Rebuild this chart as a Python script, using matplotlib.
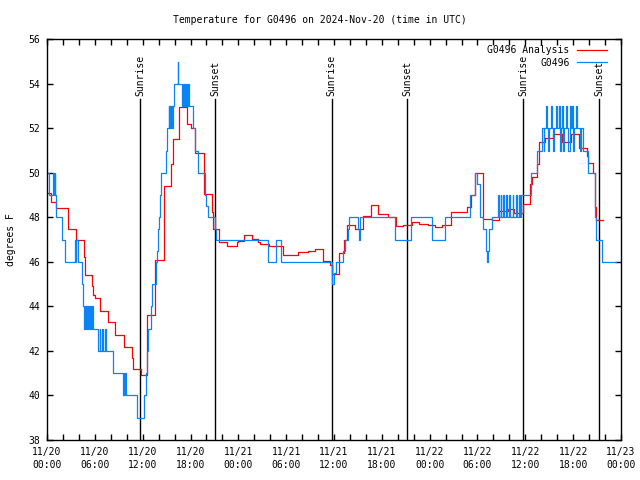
import numpy as np
import matplotlib
matplotlib.use("Agg")
import matplotlib.pyplot as plt

# hours since 2024-11-20 00:00 UTC
ana_t = [0.0, 0.5, 1.1, 2.6, 3.6, 4.6, 4.8, 5.6, 5.75, 6.0, 6.65, 7.6, 8.5, 9.6,
         10.6, 10.75, 11.8, 12.55, 13.6, 14.68, 15.6, 15.75, 16.6, 17.55, 18.0,
         18.57, 19.7, 20.66, 20.87, 21.62, 22.63, 23.8, 24.0, 24.72, 25.68, 26.52,
         26.7, 27.9, 29.57, 31.53, 32.79, 33.62, 34.59, 35.55, 35.72, 36.6, 37.3,
         37.68, 38.64, 39.69, 40.65, 41.57, 42.83, 43.79, 44.62, 45.75, 46.67,
         47.85, 48.68, 49.6, 50.65, 51.74, 52.66, 53.2, 53.7, 54.75, 55.8, 56.75,
         57.8, 58.6, 59.68, 60.6, 60.8, 61.45, 61.73, 62.44, 63.5, 64.66, 65.74,
         66.7, 67.7, 67.83, 68.5, 68.76, 68.88, 69.72]
ana_v = [49.1, 48.7, 48.4, 47.5, 47.0, 46.2, 45.4, 44.9, 44.5, 44.4, 43.8, 43.3, 42.7, 42.2,
         41.7, 41.2, 40.9, 43.6, 46.1, 49.4, 50.4, 51.5, 52.95, 52.2, 52.0,
         50.9, 49.05, 48.25, 47.5, 46.88, 46.7, 46.88, 46.95, 47.2, 47.03, 46.88,
         46.8, 46.7, 46.31, 46.43, 46.5, 46.56, 46.06, 45.85, 45.45, 46.4, 47.0,
         47.66, 47.47, 48.08, 48.54, 48.14, 48.0, 47.6, 47.66, 47.78, 47.72,
         47.67, 47.55, 47.66, 48.26, 48.23, 48.48, 49.0, 50.0, 47.94, 47.9, 48.3,
         48.38, 48.2, 48.6, 49.5, 49.8, 50.4, 51.4, 51.55, 51.73, 51.4, 51.73,
         51.1, 50.77, 50.46, 50.0, 48.48, 47.88, 47.88]

obs_t = [0.0, 0.25, 0.75, 0.85, 0.95, 1.0, 1.13, 1.84, 2.26, 3.51, 3.6, 3.7, 3.93,
         4.35, 4.56, 4.7, 4.75, 4.85, 4.95, 5.05, 5.15, 5.3, 5.4, 5.55, 5.65, 5.81,
         6.44, 6.6, 6.7, 6.85, 7.0, 7.3, 7.45, 8.24, 9.5, 9.6, 9.7, 9.8, 9.9,
         11.25, 12.21, 12.42, 12.5, 12.63, 13.05, 13.13, 13.63, 13.84, 13.97, 14.05,
         14.18, 14.3, 14.9, 15.0, 15.3, 15.35, 15.45, 15.5, 15.6, 15.65, 15.85,
         15.97, 16.39, 16.48, 16.9, 17.0, 17.1, 17.2, 17.35, 17.45, 17.55, 17.65,
         17.8, 18.36, 18.57, 18.99, 19.82, 19.95, 20.16, 21.08, 21.16, 27.77, 28.69,
         29.36, 35.72, 36.05, 36.26, 37.18, 37.39, 37.73, 37.89, 38.97, 39.19, 39.3,
         43.66, 45.62, 48.35, 49.93, 53.1, 53.7, 53.9, 54.3, 54.75, 55.1, 55.2,
         55.3, 55.5, 55.8, 56.6, 56.7, 56.9, 57.0, 57.25, 57.35, 57.6, 57.7, 58.0,
         58.1, 58.4, 58.5, 58.8, 58.9, 59.2, 59.3, 59.5, 60.7, 61.44, 62.07, 62.3,
         62.4, 62.6, 62.7, 62.9, 63.0, 63.2, 63.3, 63.5, 63.6, 63.8, 64.0, 64.2,
         64.3, 64.45, 64.6, 64.75, 64.9, 65.1, 65.25, 65.4, 65.55, 65.7, 65.85,
         66.0, 66.15, 66.35, 66.5, 66.8, 67.0, 67.2, 67.5, 67.85, 68.7, 68.9,
         69.65, 71.35]
obs_v = [50, 49, 50, 49, 50, 49, 48, 47, 46, 47, 46, 47, 46,
         45, 44, 43, 44, 43, 44, 43, 44, 43, 44, 43, 44, 43,
         42, 43, 42, 43, 42, 43, 42, 41, 40, 41, 40, 41, 40,
         39, 40, 41, 42, 43, 44, 45, 46, 46.5, 47.5, 48,
         49, 50, 51, 52, 53, 52, 53, 52, 53, 52, 53,
         54, 55, 54, 53, 54, 53, 54, 53, 54, 53, 54,
         53, 52, 51, 50, 49, 48.5, 48, 47.5, 47, 46, 47,
         46, 45, 45.5, 46, 46.5, 47, 47.5, 48, 47.5, 47, 48,
         47, 48, 47, 48, 49, 50, 49.5, 48, 47.5, 46.5, 46,
         46.5, 47.5, 48, 49, 48, 49, 48, 49, 48, 49, 48, 49,
         48, 49, 48, 49, 48, 49, 48, 49, 50, 51, 52, 51,
         52, 53, 52, 51, 52, 53, 52, 51, 52, 53, 52, 53,
         51, 52, 53, 51, 52, 53, 52, 51, 53, 52, 53,
         51, 52, 53, 52, 51, 52, 51, 51, 50, 48, 47,
         46, 46]

sunrise = [11.72, 35.7, 59.74]
sunset = [21.08, 45.18, 69.27]

xticks = np.arange(0, 73, 6)
xlabels = ["11/20\n00:00", "11/20\n06:00", "11/20\n12:00", "11/20\n18:00",
           "11/21\n00:00", "11/21\n06:00", "11/21\n12:00", "11/21\n18:00",
           "11/22\n00:00", "11/22\n06:00", "11/22\n12:00", "11/22\n18:00",
           "11/23\n00:00"]

plt.rcParams['font.family'] = ['DejaVu Sans Mono']
plt.rcParams['font.size'] = 7

fig = plt.figure(figsize=(6.4, 4.8), dpi=100)
ax = fig.add_axes([47/640, 1-440/480, 574/640, 400.7/480])

for t in sunrise:
    ax.plot([t, t], [38, 53.3], color='black', lw=1)
    ax.text(t, 53.45, "Sunrise", rotation=90, ha='center', va='bottom', fontsize=7)
for t in sunset:
    ax.plot([t, t], [38, 53.3], color='black', lw=1)
    ax.text(t, 53.45, "Sunset", rotation=90, ha='center', va='bottom', fontsize=7)

ax.step(ana_t, ana_v, where='post', color='#ff0000', lw=0.9, label='G0496 Analysis')
ax.step(obs_t, obs_v, where='post', color='#0a84f5', lw=0.9, label='G0496')

ax.set_xlim(0, 72)
ax.set_ylim(38, 56)
ax.set_xticks(xticks)
ax.set_xticklabels(xlabels, linespacing=1.4)
ax.set_xticks(np.arange(0, 73, 2), minor=True)
ax.set_yticks(np.arange(38, 57, 2))
ax.tick_params(which='both', direction='in', top=True, right=True, length=4, width=1, pad=5)
for s in ax.spines.values():
    s.set_linewidth(1)

ax.set_ylabel("degrees F", labelpad=9)
fig.text(0.5, 1-20/480, "Temperature for G0496 on 2024-Nov-20 (time in UTC)",
         ha='center', va='center', fontsize=7)

ax.legend(loc='upper right', bbox_to_anchor=(0.985, 1.0), markerfirst=False,
          frameon=False, handlelength=3.0, handletextpad=0.8, labelspacing=0.25,
          borderaxespad=0.2, fontsize=7)

fig.savefig("out.png", dpi=100)
